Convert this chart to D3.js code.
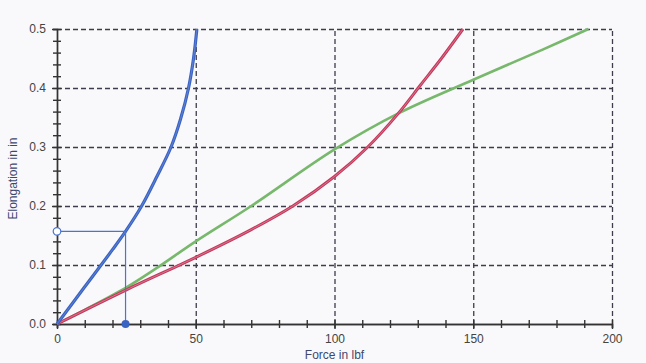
<!DOCTYPE html>
<html>
<head>
<meta charset="utf-8">
<script src="https://cdn.jsdelivr.net/npm/d3@7"></script>
<style>
  body { margin: 0; background: #f9f9fb; }
  svg { display: block; font-family: "Liberation Sans", Arial, sans-serif; }
  .grid line { stroke: #3c3c4a; stroke-width: 1.3; stroke-dasharray: 5,3; }
  .grid path { display: none; }
  .axis path, .axis line { stroke: #333; stroke-width: 1.4; }
  .axis text { fill: #444; font-size: 12px; }
</style>
</head>
<body>
<svg class="chart"></svg>
<script>
// Data (force in lbf, elongation in in)
var blueForce  = [0, 10, 20, 24.7, 30.5, 36, 41.1, 44.5, 47.4, 49.2, 50.4];
var blueElong  = [0, 0.063, 0.126, 0.157, 0.2, 0.25, 0.3, 0.347, 0.4, 0.45, 0.5];
var redForce   = [0, 25, 50, 70, 85, 100, 112, 123, 131, 138.5, 146.3];
var redElong   = [0, 0.058, 0.113, 0.16, 0.2, 0.25, 0.3, 0.357, 0.405, 0.45, 0.5];
var greenForce = [0, 10, 25, 36, 50, 70, 100, 123, 150, 175, 191.5];
var greenElong = [0, 0.024, 0.062, 0.095, 0.14, 0.2, 0.296, 0.357, 0.414, 0.465, 0.5];
var xTicks = [0, 50, 100, 150, 200];
var yTicks = [0, 0.1, 0.2, 0.3, 0.4, 0.5];
var marker = {force: 24.7, elong: 0.157};

var margin = {top: 29, right: 34, bottom: 39, left: 57},
    width = 646 - margin.left - margin.right,
    height = 363 - margin.top - margin.bottom;

var svg = d3.select('.chart')
    .attr('width', 646)
    .attr('height', 363);

var chart = svg.append('g')
    .attr('transform', 'translate(' + margin.left + ',' + margin.top + ')');

var x = d3.scaleLinear().domain([0, 200]).range([0, width]);
var y = d3.scaleLinear().domain([0, 0.5]).range([height, 0]);

// dashed gridlines
chart.append('g')
    .attr('class', 'grid')
    .attr('transform', 'translate(0,' + height + ')')
    .call(d3.axisBottom(x).tickValues(xTicks.slice(1)).tickSize(-height).tickFormat(''));

chart.append('g')
    .attr('class', 'grid')
    .call(d3.axisLeft(y).tickValues(yTicks.slice(1)).tickSize(-width).tickFormat(''));

// minor ticks crossing the axes
var xMinor = d3.range(0, 201, 10);
var yMinor = d3.range(0, 0.501, 0.02);

chart.append('g')
    .attr('class', 'axis')
    .attr('transform', 'translate(0,' + height + ')')
    .call(d3.axisBottom(x).tickValues(xMinor).tickSize(4).tickFormat(''))
    .selectAll('.tick line').attr('y1', -4);

chart.append('g')
    .attr('class', 'axis')
    .call(d3.axisLeft(y).tickValues(yMinor).tickSize(4).tickFormat(''))
    .selectAll('.tick line').attr('x1', 4);

// labelled axes
chart.append('g')
    .attr('class', 'axis')
    .attr('transform', 'translate(0,' + height + ')')
    .call(d3.axisBottom(x).tickValues(xTicks).tickSize(5).tickSizeOuter(0).tickPadding(5).tickFormat(d3.format('d')));

chart.append('g')
    .attr('class', 'axis')
    .call(d3.axisLeft(y).tickValues(yTicks).tickSize(5).tickSizeOuter(0).tickPadding(6).tickFormat(d3.format('.1f')));

// axis titles
svg.append('text')
    .attr('x', margin.left + x(100))
    .attr('y', 359)
    .attr('text-anchor', 'middle')
    .attr('fill', '#3d4870')
    .style('font-size', '12px')
    .text('Force in lbf');

svg.append('text')
    .attr('transform', 'translate(17,' + (margin.top + y(0.25) + 2) + ') rotate(-90)')
    .attr('text-anchor', 'middle')
    .attr('fill', '#3d4870')
    .style('font-size', '12px')
    .text('Elongation in in');

// curves
var line = d3.line()
    .x(function (d) { return x(d[0]); })
    .y(function (d) { return y(d[1]); })
    .curve(d3.curveCatmullRom.alpha(0.5));

function pairs(fs, es) {
    return fs.map(function (f, i) { return [f, es[i]]; });
}

chart.append('path')
    .datum(pairs(greenForce, greenElong))
    .attr('fill', 'none')
    .attr('stroke', '#78b86c')
    .attr('stroke-width', 2.6)
    .attr('d', line);

chart.append('path')
    .datum(pairs(redForce, redElong))
    .attr('fill', 'none')
    .attr('stroke', '#c23a5c')
    .attr('stroke-width', 3)
    .attr('d', line);

chart.append('path')
    .datum(pairs(redForce, redElong))
    .attr('fill', 'none')
    .attr('stroke', '#e48aa2')
    .attr('stroke-width', 0.7)
    .attr('d', line);

chart.append('path')
    .datum(pairs(blueForce, blueElong))
    .attr('fill', 'none')
    .attr('stroke', '#3a63c2')
    .attr('stroke-width', 3.2)
    .attr('d', line);

chart.append('path')
    .datum(pairs(blueForce, blueElong))
    .attr('fill', 'none')
    .attr('stroke', '#7896dc')
    .attr('stroke-width', 0.6)
    .attr('d', line);

// reading guide from the blue curve
chart.append('path')
    .datum([[0, marker.elong], [marker.force, marker.elong], [marker.force, 0]])
    .attr('fill', 'none')
    .attr('stroke', '#4a74d0')
    .attr('stroke-width', 1.2)
    .attr('d', d3.line().x(function (d) { return x(d[0]); }).y(function (d) { return y(d[1]); }));

chart.append('circle')
    .attr('cx', x(0))
    .attr('cy', y(marker.elong))
    .attr('r', 3.8)
    .attr('fill', '#fff')
    .attr('stroke', '#4a74d0')
    .attr('stroke-width', 1.2);

chart.append('circle')
    .attr('cx', x(marker.force))
    .attr('cy', y(0))
    .attr('r', 4)
    .attr('fill', '#3a63c2');
</script>
</body>
</html>
